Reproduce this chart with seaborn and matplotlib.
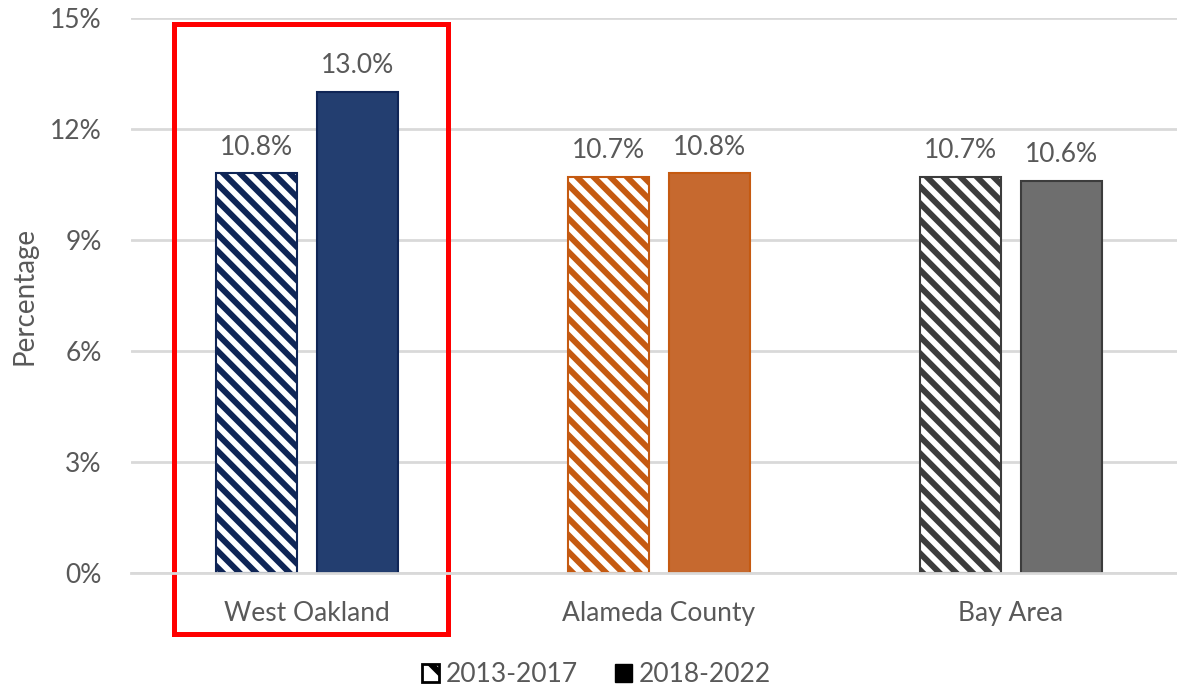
import matplotlib
matplotlib.use("Agg")
import matplotlib.pyplot as plt
import matplotlib.patches as mpatches
import pandas as pd
import seaborn as sns

# Data
areas = ["West Oakland", "Alameda County", "Bay Area"]
periods = ["2013-2017", "2018-2022"]
pct_2013_2017 = [10.8, 10.7, 10.7]
pct_2018_2022 = [13.0, 10.8, 10.6]
y_ticks = [0, 3, 6, 9, 12, 15]

# Style per area: (solid fill, edge/hatch colour)
fill_colors = ["#233E70", "#C6692F", "#6E6E6E"]
edge_colors = ["#0F2556", "#C55A11", "#3C3C3C"]
text_gray = "#595959"
grid_gray = "#D9D9D9"
FS = 19

df = pd.DataFrame({
    "Area": areas * 2,
    "Period": [periods[0]] * 3 + [periods[1]] * 3,
    "Percentage": pct_2013_2017 + pct_2018_2022,
})

sns.set_style("white")
plt.rcParams["font.family"] = ["Lato", "DejaVu Sans"]
plt.rcParams["hatch.linewidth"] = 4.3

fig = plt.figure(figsize=(11.77, 6.9), dpi=100)
ax = fig.add_axes([0.1113, 0.1696, 0.8972, 0.8043])

sns.barplot(data=df, x="Area", y="Percentage", hue="Period", order=areas,
            hue_order=periods, width=0.57, gap=0.19, legend=False, ax=ax)

# Recolour: hatched first period, solid second period, colour by area
for k, container in enumerate(ax.containers):
    for i, bar in enumerate(container):
        if k == 0:
            bar.set_facecolor("white")
            bar.set_edgecolor(edge_colors[i])
            bar.set_hatch("\\\\")
        else:
            bar.set_facecolor(fill_colors[i])
            bar.set_edgecolor(edge_colors[i])
        bar.set_linewidth(1.5)
    vals = pct_2013_2017 if k == 0 else pct_2018_2022
    ax.bar_label(container, labels=[f"{v:.1f}%" for v in vals], padding=10,
                 fontsize=FS, color=text_gray)

ax.set_ylim(0, 15)
ax.set_yticks(y_ticks)
ax.set_yticklabels([f"{t}%" for t in y_ticks])
ax.set_xlim(-0.5, 2.5)
ax.yaxis.grid(True, color=grid_gray, linewidth=2)
ax.set_axisbelow(True)
for side in ["left", "right", "top"]:
    ax.spines[side].set_visible(False)
ax.spines["bottom"].set_color(grid_gray)
ax.spines["bottom"].set_linewidth(2)
ax.tick_params(axis="y", length=0, pad=21, labelsize=FS, labelcolor=text_gray)
ax.tick_params(axis="x", length=0, pad=20, labelsize=FS, labelcolor=text_gray)
ax.set_xlabel("")
ax.set_ylabel("Percentage", fontsize=FS + 1, color=text_gray, labelpad=9)

# Highlight box around West Oakland
box = mpatches.Rectangle((-0.378, -1.65), 0.778, 16.49, fill=False,
                         edgecolor="#FF0000", linewidth=3.6, clip_on=False)
ax.add_patch(box)

handles = [
    mpatches.Patch(facecolor="white", edgecolor="black", hatch="\\", linewidth=2),
    mpatches.Patch(facecolor="black", edgecolor="black"),
]
fig.legend(handles, periods, loc="lower center", bbox_to_anchor=(0.507, 0.0),
           ncol=2, frameon=False, fontsize=FS, labelcolor=text_gray,
           handlelength=0.65, handleheight=0.65, handletextpad=0.25,
           columnspacing=1.4, borderpad=0.05, borderaxespad=0.05)

fig.savefig("out.png", dpi=100)
